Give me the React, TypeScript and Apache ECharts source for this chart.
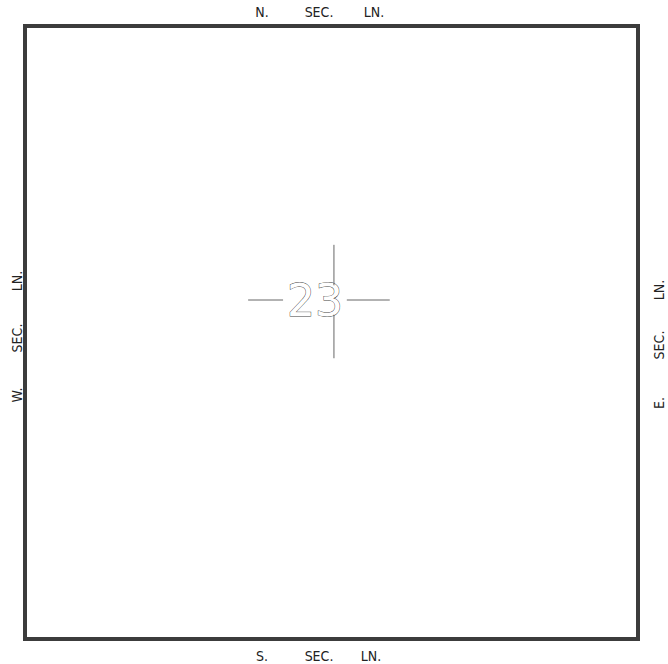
import React, { useEffect, useRef } from "react";
import * as echarts from "echarts";

const sectionNumber = "23";
const northWords = ["N.", "SEC.", "LN."];
const southWords = ["S.", "SEC.", "LN."];
const westWords = ["W.", "SEC.", "LN."];
const eastWords = ["E.", "SEC.", "LN."];

// crosshair segments in section-percent coordinates (0..100 both ways)
const crossTop: number[][] = [[50.4, 64.3], [50.4, 57.7]];
const crossBottom: number[][] = [[50.4, 52.9], [50.4, 45.8]];
const crossLeft: number[][] = [[36.4, 55.3], [42.1, 55.3]];
const crossRight: number[][] = [[52.5, 55.3], [59.5, 55.3]];

const FONT = "'DejaVu Sans Condensed', 'Liberation Sans Narrow', 'Liberation Sans', sans-serif";

export default function App() {
  const ref = useRef<HTMLDivElement>(null);
  useEffect(() => {
    if (!ref.current) return;
    const chart = echarts.init(ref.current, undefined, { renderer: "svg" });
    const lineStyle = { color: "#666", width: 1 };
    const seg = (d: number[][]) => ({
      type: "line",
      data: d,
      symbol: "none",
      lineStyle,
      silent: true,
    });
    const txtStyle = (w: string) => ({
      text: w,
      fill: "#222",
      font: `14px ${FONT}`,
      align: "center",
      verticalAlign: "middle",
    });
    const hText = (words: string[], xs: number[], y: number) =>
      words.map((w, i) => ({ type: "text", x: xs[i], y, style: txtStyle(w) }));
    const vText = (words: string[], ys: number[], x: number) =>
      words.map((w, i) => ({ type: "text", x, y: ys[i], rotation: Math.PI / 2, style: txtStyle(w) }));
    chart.setOption({
      animation: false,
      backgroundColor: "#fff",
      grid: {
        left: 25,
        top: 26,
        right: 30,
        bottom: 25,
        show: true,
        borderWidth: 4,
        borderColor: "#3c3c3c",
      },
      xAxis: { type: "value", min: 0, max: 100, show: false },
      yAxis: { type: "value", min: 0, max: 100, show: false },
      series: [seg(crossTop), seg(crossBottom), seg(crossLeft), seg(crossRight)],
      graphic: [
        ...hText(northWords, [262, 319, 374], 12),
        ...hText(southWords, [262, 319, 371], 656),
        ...vText(westWords.slice().reverse(), [281, 338, 395], 17),
        ...vText(eastWords.slice().reverse(), [290, 345, 403], 659),
        {
          type: "text",
          x: 315,
          y: 300,
          style: {
            text: sectionNumber,
            fill: "#fff",
            stroke: "#444",
            lineWidth: 0.9,
            font: `44px 'DejaVu Sans', sans-serif`,
            align: "center",
            verticalAlign: "middle",
          },
        },
      ],
    });
    return () => chart.dispose();
  }, []);
  return (
    <div
      ref={ref}
      style={{ position: "fixed", left: 0, top: 0, width: 668, height: 664, background: "#fff" }}
    />
  );
}
